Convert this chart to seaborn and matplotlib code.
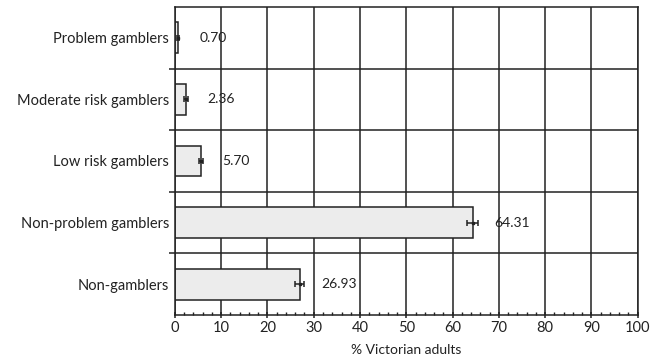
import matplotlib
matplotlib.use("Agg")
import matplotlib.pyplot as plt
from matplotlib.ticker import MultipleLocator, FixedLocator
import seaborn as sns
import numpy as np

categories = ["Problem gamblers", "Moderate risk gamblers", "Low risk gamblers",
              "Non-problem gamblers", "Non-gamblers"]
percent = [0.70, 2.36, 5.70, 64.31, 26.93]
ci_half = [0.25, 0.4, 0.45, 1.1, 1.0]
value_labels = ["0.70", "2.36", "5.70", "64.31", "26.93"]

sns.set_style("white")
plt.rcParams["font.family"] = ["Lato", "DejaVu Sans"]

fig = plt.figure(figsize=(6.65, 3.63), dpi=100)
ax = fig.add_axes([0.263, 0.132, 0.696, 0.849])

sns.barplot(x=percent, y=categories, orient="h", color="#ececec",
            edgecolor="#222222", linewidth=1.1, width=0.5, ax=ax,
            errorbar=None, saturation=1)

ypos = np.arange(len(categories))
ax.errorbar(percent, ypos, xerr=ci_half, fmt="none", ecolor="#222222",
            elinewidth=1.1, capsize=2.5, capthick=1.1, zorder=4)
ax.plot(percent, ypos, "s", color="#222222", markersize=1.8, zorder=5)

for v, y, lab in zip(percent, ypos, value_labels):
    ax.text(v + 4.6, y, lab, va="center", ha="left", fontsize=10, color="#222222")

ax.set_xlim(0, 100)
ax.set_ylim(len(categories) - 0.5, -0.5)
ax.xaxis.set_major_locator(MultipleLocator(10))
ax.xaxis.set_minor_locator(MultipleLocator(2))
ax.yaxis.set_minor_locator(FixedLocator(np.arange(0.5, len(categories) - 0.5, 1)))

ax.grid(True, axis="x", which="major", color="#222222", linewidth=1.1)
ax.grid(True, axis="y", which="minor", color="#222222", linewidth=1.1)
ax.set_axisbelow(True)

for s in ax.spines.values():
    s.set_color("#222222")
    s.set_linewidth(1.1)
    s.set_visible(True)

ax.tick_params(axis="x", which="major", direction="inout", length=5, width=1.1,
               color="#222222", labelsize=10.5, labelcolor="#222222", bottom=True, pad=2)
ax.tick_params(axis="x", which="minor", direction="in", length=2.5, width=1.0,
               color="#222222", bottom=True)
ax.tick_params(axis="y", which="major", length=0, labelsize=10.5,
               labelcolor="#222222", pad=4)
ax.tick_params(axis="y", which="minor", direction="out", length=4, width=1.1,
               color="#222222", left=True)

ax.set_xlabel("% Victorian adults", fontsize=10, color="#222222", labelpad=6)
ax.set_ylabel("")

fig.savefig("out.png", dpi=100)
